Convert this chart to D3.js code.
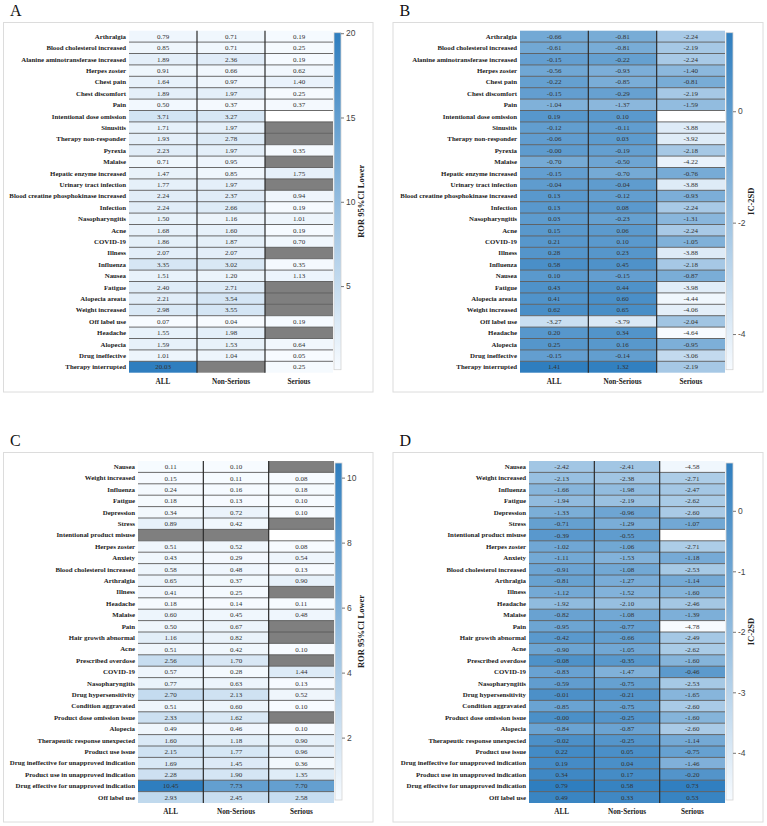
<!DOCTYPE html>
<html>
<head>
<meta charset="utf-8">
<script src="https://cdn.jsdelivr.net/npm/d3@7"></script>
<style>
  html, body { margin: 0; padding: 0; background: #fff; }
  svg { display: block; }
</style>
</head>
<body>
<svg id="chart" width="767" height="826"></svg>
<script>
// Columns shared by all four heatmaps
const groups = ["ALL", "Non-Serious", "Serious"];

// NA -> grey cell, BLANK -> empty white cell
const NA = null;
const BLANK = "";

// Panels A and B share the same events
const eventsAB = [
  "Arthralgia", "Blood cholesterol increased", "Alanine aminotransferase increased",
  "Herpes zoster", "Chest pain", "Chest discomfort", "Pain", "Intentional dose omission",
  "Sinusitis", "Therapy non-responder", "Pyrexia", "Malaise", "Hepatic enzyme increased",
  "Urinary tract infection", "Blood creatine phosphokinase increased", "Infection",
  "Nasopharyngitis", "Acne", "COVID-19", "Illness", "Influenza", "Nausea", "Fatigue",
  "Alopecia areata", "Weight increased", "Off label use", "Headache", "Alopecia",
  "Drug ineffective", "Therapy interrupted"
];

// A: ROR 95%CI lower
const rorA_all = [0.79, 0.85, 1.89, 0.91, 1.64, 1.89, 0.50, 3.71, 1.71, 1.93, 2.23, 0.71, 1.47, 1.77, 2.24, 2.24, 1.50, 1.68, 1.86, 2.07, 3.35, 1.51, 2.40, 2.21, 2.98, 0.07, 1.55, 1.59, 1.01, 20.03];
const rorA_non = [0.71, 0.71, 2.36, 0.66, 0.97, 1.97, 0.37, 3.27, 1.97, 2.78, 1.97, 0.95, 0.85, 1.97, 2.37, 2.66, 1.16, 1.60, 1.87, 2.07, 3.02, 1.20, 2.71, 3.54, 3.55, 0.04, 1.98, 1.53, 1.04, NA];
const rorA_ser = [0.19, 0.25, 0.19, 0.62, 1.40, 0.25, 0.37, BLANK, NA, NA, 0.35, NA, 1.75, NA, 0.94, 0.19, 1.01, 0.19, 0.70, NA, 0.35, 1.13, NA, NA, NA, 0.19, NA, 0.64, 0.05, 0.25];

// B: IC-2SD
const icB_all = [-0.66, -0.61, -0.15, -0.56, -0.22, -0.15, -1.04, 0.19, -0.12, -0.06, -0.00, -0.70, -0.15, -0.04, 0.13, 0.13, 0.03, 0.15, 0.21, 0.28, 0.58, 0.10, 0.43, 0.41, 0.62, -3.27, 0.20, 0.25, -0.15, 1.41];
const icB_non = [-0.81, -0.81, -0.22, -0.93, -0.85, -0.29, -1.37, 0.10, -0.11, 0.03, -0.19, -0.50, -0.70, -0.04, -0.12, 0.08, -0.23, 0.06, 0.10, 0.23, 0.45, -0.15, 0.44, 0.60, 0.65, -3.79, 0.34, 0.16, -0.14, 1.32];
const icB_ser = [-2.24, -2.19, -2.24, -1.40, -0.81, -2.19, -1.59, BLANK, -3.88, -3.92, -2.18, -4.22, -0.76, -3.88, -0.93, -2.24, -1.31, -2.24, -1.05, -3.88, -2.18, -0.87, -3.98, -4.44, -4.06, -2.04, -4.64, -0.95, -3.06, -2.19];

// Panels C and D share the same events
const eventsCD = [
  "Nausea", "Weight increased", "Influenza", "Fatigue", "Depression", "Stress",
  "Intentional product misuse", "Herpes zoster", "Anxiety", "Blood cholesterol increased",
  "Arthralgia", "Illness", "Headache", "Malaise", "Pain", "Hair growth abnormal", "Acne",
  "Prescribed overdose", "COVID-19", "Nasopharyngitis", "Drug hypersensitivity",
  "Condition aggravated", "Product dose omission issue", "Alopecia",
  "Therapeutic response unexpected", "Product use issue",
  "Drug ineffective for unapproved indication", "Product use in unapproved indication",
  "Drug effective for unapproved indication", "Off label use"
];

// C: ROR 95%CI lower
const rorC_all = [0.11, 0.15, 0.24, 0.18, 0.34, 0.89, NA, 0.51, 0.43, 0.58, 0.65, 0.41, 0.18, 0.60, 0.50, 1.16, 0.51, 2.56, 0.57, 0.77, 2.70, 0.51, 2.33, 0.49, 1.60, 2.15, 1.69, 2.28, 10.45, 2.93];
const rorC_non = [0.10, 0.11, 0.16, 0.13, 0.72, 0.42, NA, 0.52, 0.29, 0.48, 0.37, 0.25, 0.14, 0.45, 0.67, 0.82, 0.42, 1.70, 0.28, 0.63, 2.13, 0.60, 1.62, 0.46, 1.18, 1.77, 1.45, 1.90, 7.73, 2.45];
const rorC_ser = [NA, 0.08, 0.18, 0.10, 0.10, NA, BLANK, 0.08, 0.54, 0.13, 0.90, NA, 0.11, 0.48, NA, NA, 0.10, NA, 1.44, 0.13, 0.52, 0.10, NA, 0.10, 0.90, 0.96, 0.36, 1.35, 7.70, 2.58];

// D: IC-2SD
const icD_all = [-2.42, -2.13, -1.66, -1.94, -1.33, -0.71, -0.39, -1.02, -1.11, -0.91, -0.81, -1.12, -1.92, -0.82, -0.95, -0.42, -0.90, -0.08, -0.83, -0.59, -0.01, -0.85, -0.00, -0.84, -0.02, 0.22, 0.19, 0.34, 0.79, 0.49];
const icD_non = [-2.41, -2.38, -1.98, -2.19, -0.96, -1.29, -0.55, -1.06, -1.53, -1.08, -1.27, -1.52, -2.10, -1.08, -0.77, -0.66, -1.05, -0.35, -1.47, -0.75, -0.21, -0.75, -0.25, -0.87, -0.25, 0.05, 0.04, 0.17, 0.58, 0.33];
const icD_ser = [-4.58, -2.71, -2.47, -2.62, -2.60, -1.07, BLANK, -2.71, -1.18, -2.53, -1.14, -1.60, -2.46, -1.39, -4.78, -2.49, -2.62, -1.60, -0.46, -2.53, -1.65, -2.60, -1.60, -2.60, -1.14, -0.75, -1.46, -0.20, 0.73, 0.53];

// Colorbar ticks
const ticksA = [5, 10, 15, 20];
const ticksB = [-4, -2, 0];
const ticksC = [2, 4, 6, 8, 10];
const ticksD = [-4, -3, -2, -1, 0];

const SERIF = "'Liberation Serif', 'Times New Roman', serif";
const SANS = "'Liberation Sans', Arial, sans-serif";
const LOW_COLOR = "#f7fbff";
const HIGH_COLOR = "#2f7ebf";
const NA_COLOR = "#7f7f7f";

// Where each panel sits on the page
const panels = [
  { letter: "A", rows: eventsAB, cols: [rorA_all, rorA_non, rorA_ser], ticks: ticksA, title: "ROR 95%CI Lower",
    box: [3.5, 22.5, 373, 392], heatX: [129, 333], heatY: [30.7, 372.7], titleX: 364 },
  { letter: "B", rows: eventsAB, cols: [icB_all, icB_non, icB_ser], ticks: ticksB, title: "IC-2SD",
    box: [393, 22.5, 763, 392], heatX: [520, 725], heatY: [30.7, 372.7], titleX: 754 },
  { letter: "C", rows: eventsCD, cols: [rorC_all, rorC_non, rorC_ser], ticks: ticksC, title: "ROR 95%CI Lower",
    box: [3.5, 452.5, 373, 822], heatX: [138, 334], heatY: [461, 803], titleX: 364 },
  { letter: "D", rows: eventsCD, cols: [icD_all, icD_non, icD_ser], ticks: ticksD, title: "IC-2SD",
    box: [393, 452.5, 763, 822], heatX: [529, 725], heatY: [461, 803], titleX: 754 }
];

// Keep "-0.00" as it is printed in the source table
const fmt = (v) => (v < 0 || Object.is(v, -0) ? "-" : "") + Math.abs(v).toFixed(2);

const svg = d3.select("#chart");

panels.forEach((p, pi) => {
  const g = svg.append("g");

  // Panel frame
  g.append("rect")
    .attr("x", p.box[0]).attr("y", p.box[1])
    .attr("width", p.box[2] - p.box[0]).attr("height", p.box[3] - p.box[1])
    .attr("fill", "#fff").attr("stroke", "#dcdcdc").attr("stroke-width", 1);

  // Panel letter
  g.append("text")
    .attr("x", p.box[0] + 6.5).attr("y", p.box[1] - 7)
    .attr("font-family", SERIF).attr("font-size", 16)
    .attr("fill", "#111")
    .text(p.letter);

  // Flatten the three columns into cells
  const cells = [];
  p.cols.forEach((col, ci) => {
    col.forEach((v, ri) => cells.push({ row: p.rows[ri], group: groups[ci], v }));
  });
  const nums = cells.filter((d) => typeof d.v === "number").map((d) => d.v);
  const extent = d3.extent(nums);

  const x = d3.scaleBand().domain(groups).range(p.heatX);
  const y = d3.scaleBand().domain(p.rows).range(p.heatY);
  const color = d3.scaleLinear().domain(extent).range([LOW_COLOR, HIGH_COLOR])
    .interpolate(d3.interpolateRgb);

  // Heatmap cells
  g.selectAll("rect.cell")
    .data(cells)
    .enter()
    .append("rect")
    .attr("class", "cell")
    .attr("x", (d) => x(d.group))
    .attr("y", (d) => y(d.row))
    .attr("width", x.bandwidth())
    .attr("height", y.bandwidth())
    .attr("fill", (d) => d.v === NA ? NA_COLOR : d.v === BLANK ? "#fff" : color(d.v));

  // Row separators
  g.selectAll("line.hrow")
    .data(p.rows.slice(1))
    .enter()
    .append("line")
    .attr("x1", p.heatX[0]).attr("x2", p.heatX[1])
    .attr("y1", (d) => y(d)).attr("y2", (d) => y(d))
    .attr("stroke", "#5a5a5a").attr("stroke-width", 0.9);

  // Column separators
  g.selectAll("line.vcol")
    .data(groups.slice(1))
    .enter()
    .append("line")
    .attr("x1", (d) => x(d)).attr("x2", (d) => x(d))
    .attr("y1", p.heatY[0]).attr("y2", p.heatY[1])
    .attr("stroke", "#2b2b2b").attr("stroke-width", 1.2);

  // Cell values
  g.selectAll("text.val")
    .data(cells.filter((d) => typeof d.v === "number"))
    .enter()
    .append("text")
    .attr("x", (d) => x(d.group) + x.bandwidth() / 2)
    .attr("y", (d) => y(d.row) + y.bandwidth() / 2)
    .attr("dy", "0.35em")
    .attr("text-anchor", "middle")
    .attr("font-family", SERIF).attr("font-size", 7)
    .attr("fill", "#333")
    .text((d) => fmt(d.v));

  // Row labels
  g.selectAll("text.row")
    .data(p.rows)
    .enter()
    .append("text")
    .attr("x", p.heatX[0] - 3)
    .attr("y", (d) => y(d) + y.bandwidth() / 2)
    .attr("dy", "0.35em")
    .attr("text-anchor", "end")
    .attr("font-family", SERIF).attr("font-size", 6.85).attr("font-weight", "bold")
    .attr("fill", "#222")
    .text((d) => d);

  // Column labels
  g.selectAll("text.col")
    .data(groups)
    .enter()
    .append("text")
    .attr("x", (d) => x(d) + x.bandwidth() / 2)
    .attr("y", p.heatY[1] + 11)
    .attr("text-anchor", "middle")
    .attr("font-family", SERIF).attr("font-size", 7.2).attr("font-weight", "bold")
    .attr("fill", "#222")
    .text((d) => d);

  // Colorbar
  const cbX = p.heatX[1] + 1;
  const cbW = 7;
  const cbY0 = p.heatY[0] + 2;
  const cbY1 = p.heatY[1] - 3;
  const gradId = "grad" + pi;
  const grad = svg.append("defs").append("linearGradient")
    .attr("id", gradId).attr("x1", 0).attr("y1", 1).attr("x2", 0).attr("y2", 0);
  grad.append("stop").attr("offset", 0).attr("stop-color", LOW_COLOR);
  grad.append("stop").attr("offset", 1).attr("stop-color", HIGH_COLOR);

  g.append("rect")
    .attr("x", cbX).attr("y", cbY0)
    .attr("width", cbW).attr("height", cbY1 - cbY0)
    .attr("fill", `url(#${gradId})`)
    .attr("stroke", "#d4d4d4").attr("stroke-width", 0.8);

  const cbScale = d3.scaleLinear().domain(extent).range([cbY1, cbY0]);
  const axis = d3.axisRight(cbScale).tickValues(p.ticks).tickSize(3).tickPadding(2)
    .tickFormat((d) => (d < 0 ? "-" : "") + Math.abs(d));
  const ax = g.append("g")
    .attr("transform", `translate(${cbX + cbW},0)`)
    .call(axis);
  ax.select(".domain").remove();
  ax.selectAll("line").attr("stroke", "#777");
  ax.selectAll("text").attr("font-family", SANS).attr("font-size", 8.5).attr("fill", "#444");

  // Colorbar title
  g.append("text")
    .attr("transform", `translate(${p.titleX},${(cbY0 + cbY1) / 2}) rotate(-90)`)
    .attr("text-anchor", "middle")
    .attr("font-family", SERIF).attr("font-size", 8.5).attr("font-weight", "bold")
    .attr("fill", "#222")
    .text(p.title);
});
</script>
</body>
</html>
